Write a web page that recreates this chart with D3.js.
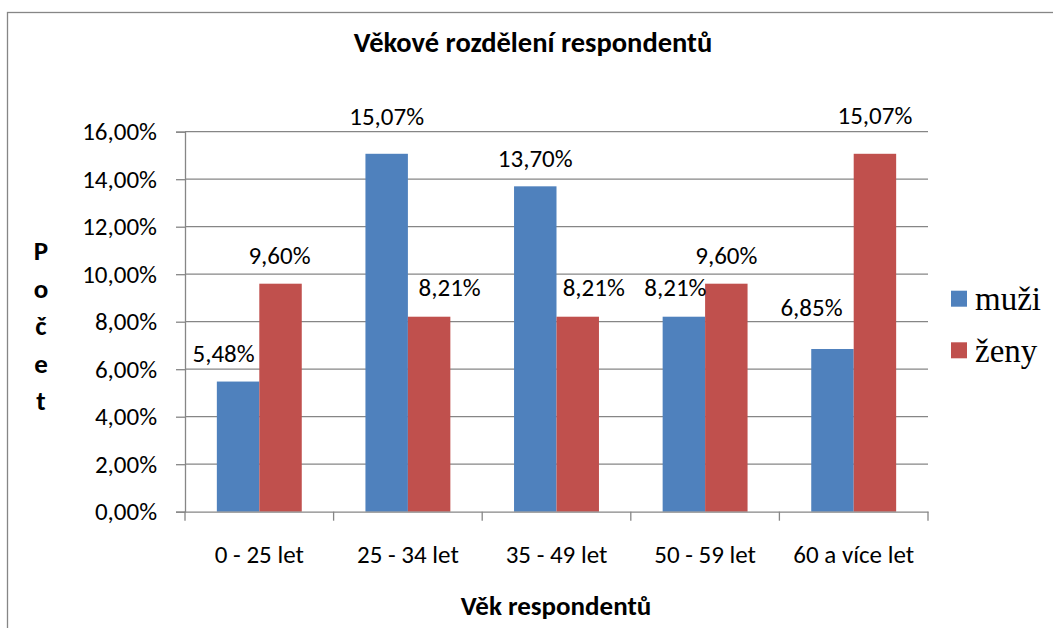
<!DOCTYPE html>
<html>
<head>
<meta charset="utf-8">
<title>Věkové rozdělení respondentů</title>
<script src="https://d3js.org/d3.v7.min.js"></script>
<style>
  body { margin: 0; background: #fff; }
  svg { font-family: Carlito, Calibri, Lato, sans-serif; }
  .legend text { font-family: 'Liberation Serif', 'Times New Roman', serif; }
</style>
</head>
<body>
<script type="text/javascript">
	// data
	var categories = ["0 - 25 let", "25 - 34 let", "35 - 49 let", "50 - 59 let", "60 a více let"];
	var seriesNames = ["muži", "ženy"];
	var muzi = [0.0548, 0.1507, 0.1370, 0.0821, 0.0685];
	var zeny = [0.0960, 0.0821, 0.0821, 0.0960, 0.1507];
	var yTicks = [0, 0.02, 0.04, 0.06, 0.08, 0.10, 0.12, 0.14, 0.16];

	var width  = 1053;
	var height = 628;
	var colours = ["#4F81BD", "#C0504D"];
	var fontSize = 25;

	// hand-moved data labels in the original (dx, dy in px), by series then category
	var labelNudge = [
		[[-14.5, 0], [0, -9.5], [0, 0], [-8.5, -1.5], [-21, -14]],
		[[-1, 0], [20.5, -1.5], [16, -1.5], [0, 0], [0, -10]]
	];

	var plot = {left: 185, right: 928, top: 131.7, bottom: 511.7};

	var cz = d3.formatLocale({decimal: ",", thousands: " ", grouping: [3], currency: ["", " Kč"]});
	var pct = cz.format(".2%");

	var svg = d3.select("body").append("svg")
		.attr("width", width)
		.attr("height", height);

	// outer chart border
	svg.append("rect")
		.attr("x", 7.5).attr("y", 12.5)
		.attr("width", width + 20).attr("height", height + 20)
		.attr("fill", "none").attr("stroke", "#868686").attr("stroke-width", 1.3);

	var x0 = d3.scaleBand().domain(categories).range([plot.left, plot.right]).padding(0);
	var x1 = d3.scaleBand().domain(seriesNames).range([0, x0.bandwidth()]).paddingInner(0).paddingOuter(0.75);
	var y  = d3.scaleLinear().domain([0, 0.16]).range([plot.bottom, plot.top]);

	// gridlines
	svg.append("g").selectAll("line").data(yTicks.slice(1)).enter().append("line")
		.attr("x1", plot.left).attr("x2", plot.right)
		.attr("y1", d => y(d)).attr("y2", d => y(d))
		.attr("stroke", "#868686").attr("stroke-width", 1.3);

	// y axis
	var yAxis = svg.append("g")
		.attr("transform", "translate(" + plot.left + ",0)")
		.call(d3.axisLeft(y).tickValues(yTicks).tickFormat(pct).tickSize(9).tickPadding(19));
	yAxis.attr("font-family", null).attr("font-size", fontSize);
	yAxis.select(".domain").attr("stroke", "#868686").attr("stroke-width", 1.3);
	yAxis.selectAll(".tick line").attr("stroke", "#868686").attr("stroke-width", 1.3);
	yAxis.selectAll(".tick text").attr("fill", "#000").attr("dy", "0.33em");

	// bars
	var groups = svg.append("g").selectAll("g").data(categories).enter().append("g")
		.attr("transform", d => "translate(" + x0(d) + ",0)");

	var series = [muzi, zeny];
	groups.selectAll("rect")
		.data((d, i) => series.map((s, k) => ({name: seriesNames[k], k: k, i: i, v: s[i]})))
		.enter().append("rect")
		.attr("x", d => x1(d.name))
		.attr("y", d => y(d.v))
		.attr("width", x1.bandwidth())
		.attr("height", d => y(0) - y(d.v))
		.attr("fill", d => colours[d.k]);

	// x axis
	var xAxis = svg.append("g")
		.attr("transform", "translate(0," + plot.bottom + ")")
		.call(d3.axisBottom(x0).tickSize(0).tickPadding(51.6));
	xAxis.attr("font-family", null).attr("font-size", fontSize);
	xAxis.select(".domain").attr("stroke", "#868686").attr("stroke-width", 1.3);
	xAxis.selectAll(".tick text").attr("fill", "#000").attr("dy", "0");
	// category boundary ticks
	svg.append("g").selectAll("line").data(categories.concat([null])).enter().append("line")
		.attr("x1", (d, i) => i < categories.length ? x0(d) : plot.right)
		.attr("x2", (d, i) => i < categories.length ? x0(d) : plot.right)
		.attr("y1", plot.bottom).attr("y2", plot.bottom + 9)
		.attr("stroke", "#868686").attr("stroke-width", 1.3);

	// data labels
	groups.selectAll("text.lbl")
		.data((d, i) => series.map((s, k) => ({name: seriesNames[k], k: k, i: i, v: s[i]})))
		.enter().append("text").attr("class", "lbl")
		.attr("x", d => x1(d.name) + x1.bandwidth() / 2 + labelNudge[d.k][d.i][0])
		.attr("y", d => y(d.v) - 19.5 + labelNudge[d.k][d.i][1])
		.attr("text-anchor", "middle")
		.attr("font-size", fontSize)
		.text(d => pct(d.v));

	// title
	svg.append("text")
		.attr("x", 533).attr("y", 51.7)
		.attr("text-anchor", "middle")
		.attr("font-size", 28.5).attr("font-weight", "bold")
		.text("Věkové rozdělení respondentů");

	// x axis title
	svg.append("text")
		.attr("x", 556).attr("y", 615)
		.attr("text-anchor", "middle")
		.attr("font-size", 27).attr("font-weight", "bold")
		.text("Věk respondentů");

	// y axis title, letters stacked
	svg.append("g").selectAll("text").data("Počet".split("")).enter().append("text")
		.attr("x", 41).attr("y", (d, i) => 260 + i * 37.5)
		.attr("text-anchor", "middle")
		.attr("font-size", 27).attr("font-weight", "bold")
		.text(d => d);

	// legend
	var legend = svg.append("g").attr("class", "legend")
		.selectAll("g").data(seriesNames).enter().append("g")
		.attr("transform", (d, i) => "translate(951," + (290.7 + i * 51.6) + ")");
	legend.append("rect")
		.attr("width", 16).attr("height", 16)
		.attr("fill", (d, i) => colours[i]);
	legend.append("text")
		.attr("x", 24).attr("y", 19.5)
		.attr("font-size", 33)
		.text(d => d);
</script>
</body>
</html>
